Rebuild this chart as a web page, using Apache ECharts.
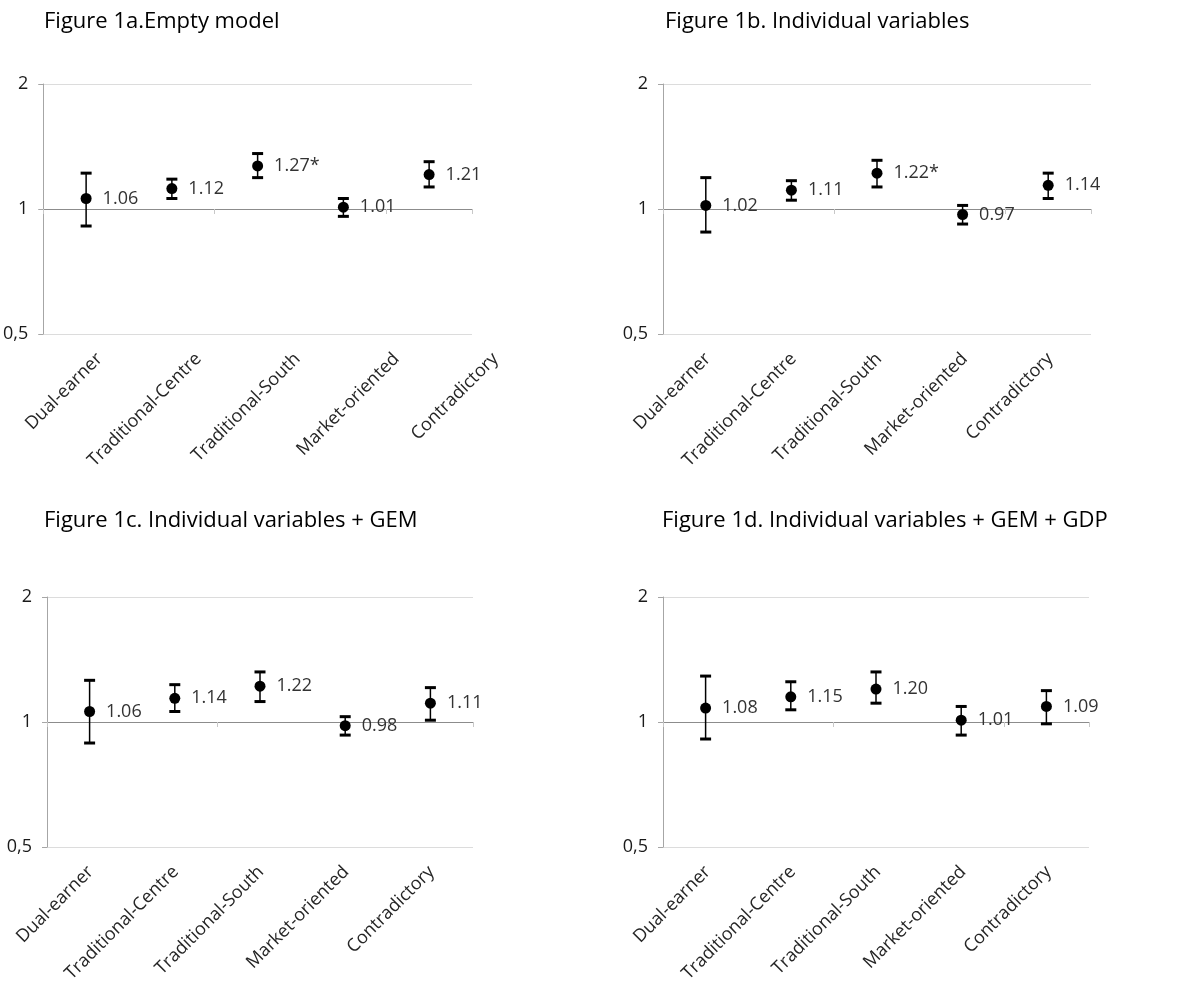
<!DOCTYPE html>
<html>
<head>
<meta charset="utf-8">
<script src="https://cdn.jsdelivr.net/npm/echarts@6/dist/echarts.min.js"></script>
<style>
html,body{margin:0;padding:0;background:#fff;}
#chart{width:1202px;height:1001px;}
</style>
</head>
<body>
<div id="chart"></div>
<script>
// ---- Data ----
const categories = ['Dual-earner', 'Traditional-Centre', 'Traditional-South', 'Market-oriented', 'Contradictory'];
const titles = ['Figure 1a.Empty model', 'Figure 1b. Individual variables', 'Figure 1c. Individual variables + GEM', 'Figure 1d. Individual variables + GEM + GDP'];
const yTickValues = [0.5, 1, 2];
const yTickLabels = ['0,5', '1', '2'];

const oddsA = [1.06, 1.12, 1.27, 1.01, 1.21];
const labelsA = ['1.06', '1.12', '1.27*', '1.01', '1.21'];
const lowA = [0.91, 1.06, 1.19, 0.96, 1.13];
const highA = [1.22, 1.18, 1.36, 1.06, 1.30];

const oddsB = [1.02, 1.11, 1.22, 0.97, 1.14];
const labelsB = ['1.02', '1.11', '1.22*', '0.97', '1.14'];
const lowB = [0.88, 1.05, 1.13, 0.92, 1.06];
const highB = [1.19, 1.17, 1.31, 1.02, 1.22];

const oddsC = [1.06, 1.14, 1.22, 0.98, 1.11];
const labelsC = ['1.06', '1.14', '1.22', '0.98', '1.11'];
const lowC = [0.89, 1.06, 1.12, 0.93, 1.01];
const highC = [1.26, 1.23, 1.32, 1.03, 1.21];

const oddsD = [1.08, 1.15, 1.20, 1.01, 1.09];
const labelsD = ['1.08', '1.15', '1.20', '1.01', '1.09'];
const lowD = [0.91, 1.07, 1.11, 0.93, 0.99];
const highD = [1.29, 1.25, 1.32, 1.09, 1.19];

const panels = [
  {odds: oddsA, labels: labelsA, low: lowA, high: highA},
  {odds: oddsB, labels: labelsB, low: lowB, high: highB},
  {odds: oddsC, labels: labelsC, low: lowC, high: highC},
  {odds: oddsD, labels: labelsD, low: lowD, high: highD}
];

// ---- Layout ----
const FONT = 'Open Sans';
const plotRects = [
  {left: 43, top: 84, width: 429, height: 250},
  {left: 663, top: 84, width: 428, height: 250},
  {left: 47, top: 597, width: 426, height: 250},
  {left: 663, top: 597, width: 426, height: 250}
];
const labelRects = [
  {left: 50, top: 84, width: 495, height: 250},
  {left: 665, top: 84, width: 428, height: 250},
  {left: 48, top: 597, width: 426, height: 250},
  {left: 665, top: 597, width: 426, height: 250}
];
const titlePos = [
  {left: 44, top: 11},
  {left: 665, top: 11},
  {left: 44, top: 510},
  {left: 662, top: 510}
];

const grids = [], xAxes = [], yAxes = [], series = [], titleList = [];

panels.forEach((p, i) => {
  const r = plotRects[i];
  grids.push(Object.assign({containLabel: false}, r));
  titleList.push({
    text: titles[i], left: titlePos[i].left, top: titlePos[i].top, padding: 0,
    textStyle: {fontFamily: FONT, fontSize: 22, fontWeight: 'normal', color: '#000'}
  });
});
labelRects.forEach(r => grids.push(Object.assign({containLabel: false}, r)));

panels.forEach((p, i) => {
  const r = plotRects[i];
  // middle category axis (crossing at 1)
  xAxes.push({
    type: 'category', gridIndex: i, data: categories, position: 'bottom',
    offset: -r.height / 2,
    axisLine: {show: true, onZero: false, lineStyle: {color: '#8c8c8c', width: 1}},
    axisTick: {show: true, length: 5, lineStyle: {color: '#c8c8c8'}},
    axisLabel: {show: false}, splitLine: {show: false}
  });
  yAxes.push({
    type: 'log', logBase: 2, gridIndex: i, min: 0.5, max: 2, interval: 1,
    axisLine: {show: true, lineStyle: {color: '#a6a6a6', width: 1}},
    axisTick: {show: true, length: 5, lineStyle: {color: '#a6a6a6'}},
    axisLabel: {
      margin: 15, fontFamily: FONT, fontSize: 18, color: '#1a1a1a',
      formatter: v => {
        const k = yTickValues.findIndex(t => Math.abs(t - v) < 1e-6);
        return k >= 0 ? yTickLabels[k] : '';
      }
    },
    splitLine: {show: true, lineStyle: {color: '#dcdcdc', width: 1}}
  });
});

panels.forEach((p, i) => {
  xAxes.push({
    type: 'category', gridIndex: 4 + i, data: categories, position: 'bottom',
    axisLine: {show: false}, axisTick: {show: false}, splitLine: {show: false},
    axisLabel: {interval: 0, rotate: 45, margin: 22, fontFamily: FONT, fontSize: 18, color: '#262626'}
  });
  yAxes.push({type: 'value', gridIndex: 4 + i, show: false, min: 0, max: 1});
});

panels.forEach((p, i) => {
  series.push({
    type: 'custom', xAxisIndex: i, yAxisIndex: i, z: 3,
    data: categories.map((c, k) => [k, p.low[k], p.high[k]]),
    encode: {x: 0, y: [1, 2]},
    renderItem: (params, api) => {
      const x = api.value(0);
      const lo = api.coord([x, api.value(1)]);
      const hi = api.coord([x, api.value(2)]);
      const half = 5.5;
      const st = {stroke: '#000', lineWidth: 1.5};
      const cap = {stroke: '#000', lineWidth: 3};
      return {
        type: 'group',
        children: [
          {type: 'line', shape: {x1: lo[0], y1: lo[1], x2: hi[0], y2: hi[1]}, style: st},
          {type: 'line', shape: {x1: hi[0] - half, y1: hi[1], x2: hi[0] + half, y2: hi[1]}, style: cap},
          {type: 'line', shape: {x1: lo[0] - half, y1: lo[1], x2: lo[0] + half, y2: lo[1]}, style: cap}
        ]
      };
    }
  });
  series.push({
    type: 'scatter', xAxisIndex: i, yAxisIndex: i, z: 4,
    data: p.odds, symbol: 'circle', symbolSize: 11,
    itemStyle: {color: '#000', opacity: 1},
    label: {
      show: true, position: 'right', distance: 11,
      fontFamily: FONT, fontSize: 18, color: '#333',
      formatter: prm => p.labels[prm.dataIndex]
    }
  });
});

const chart = echarts.init(document.getElementById('chart'), null, {renderer: 'canvas'});
chart.setOption({
  backgroundColor: '#fff',
  animation: false,
  title: titleList,
  grid: grids,
  xAxis: xAxes,
  yAxis: yAxes,
  series: series
});
</script>
</body>
</html>
